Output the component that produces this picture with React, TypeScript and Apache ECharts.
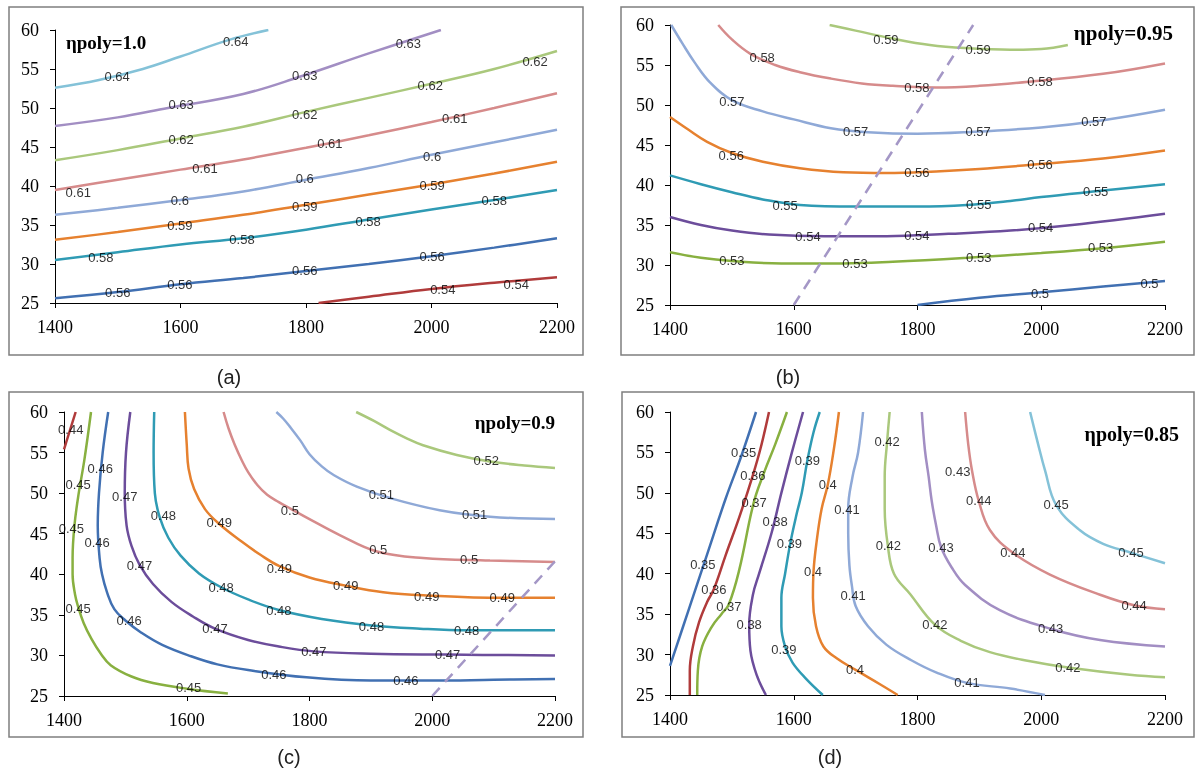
import React, { useEffect, useRef } from "react";
import * as echarts from "echarts";

// ---------- shared axis ranges ----------
const xRange = [1400, 2200];
const xStep = 200;
const yRange = [25, 60];
const yStep = 5;

// ---------- panel (a): ηpoly=1.0 ----------
const aTitle = "ηpoly=1.0";
const aLevels = ["0.64", "0.63", "0.62", "0.61", "0.6", "0.59", "0.58", "0.56", "0.54"];
const a064 = [[1400, 52.6], [1470, 53.6], [1540, 55.0], [1600, 56.6], [1680, 58.8], [1740, 60]];
const a063 = [[1400, 47.7], [1500, 48.8], [1580, 50.0], [1700, 51.8], [1790, 54.0], [1900, 57.0], [2015, 60]];
const a062 = [[1400, 43.3], [1500, 44.6], [1600, 46.1], [1700, 47.6], [1800, 49.5], [1900, 51.3], [2000, 53.1], [2100, 55.0], [2200, 57.3]];
const a061 = [[1400, 39.5], [1500, 40.8], [1600, 42.1], [1700, 43.4], [1800, 44.9], [1900, 46.5], [2000, 48.2], [2100, 50.0], [2200, 51.9]];
const a060 = [[1400, 36.3], [1500, 37.2], [1600, 38.2], [1700, 39.3], [1800, 40.8], [1900, 42.3], [2000, 44.0], [2100, 45.6], [2200, 47.2]];
const a059 = [[1400, 33.1], [1500, 34.1], [1600, 35.2], [1700, 36.3], [1800, 37.6], [1900, 38.9], [2000, 40.2], [2100, 41.6], [2200, 43.1]];
const a058 = [[1400, 30.5], [1500, 31.5], [1600, 32.5], [1700, 33.3], [1800, 34.4], [1900, 35.7], [2000, 37.0], [2100, 38.2], [2200, 39.5]];
const a056 = [[1400, 25.6], [1500, 26.4], [1600, 27.4], [1700, 28.2], [1800, 29.1], [1900, 30.0], [2000, 31.0], [2100, 32.1], [2200, 33.3]];
const a054 = [[1820, 25], [1900, 25.8], [2000, 26.8], [2100, 27.6], [2200, 28.3]];
const aLines = [a064, a063, a062, a061, a060, a059, a058, a056, a054];
const aLabels = [
  [1499, 54.1, "0.64"], [1688, 58.5, "0.64"],
  [1601, 50.4, "0.63"], [1798, 54.2, "0.63"], [1963, 58.3, "0.63"],
  [1601, 45.9, "0.62"], [1798, 49.2, "0.62"], [1998, 52.9, "0.62"], [2165, 56.0, "0.62"],
  [1437, 39.2, "0.61"], [1639, 42.3, "0.61"], [1838, 45.4, "0.61"], [2037, 48.7, "0.61"],
  [1599, 38.2, "0.6"], [1798, 40.9, "0.6"], [2001, 43.8, "0.6"],
  [1599, 35.0, "0.59"], [1798, 37.4, "0.59"], [2001, 40.1, "0.59"],
  [1473, 30.8, "0.58"], [1698, 33.2, "0.58"], [1899, 35.5, "0.58"], [2100, 38.2, "0.58"],
  [1500, 26.4, "0.56"], [1599, 27.4, "0.56"], [1798, 29.2, "0.56"], [2001, 31.0, "0.56"],
  [2018, 26.7, "0.54"], [2135, 27.4, "0.54"],
];

// ---------- panel (b): ηpoly=0.95 ----------
const bTitle = "ηpoly=0.95";
const bLevels = ["0.59", "0.58", "0.57", "0.56", "0.55", "0.54", "0.53", "0.5"];
const b059 = [[1658, 60], [1700, 59.3], [1760, 58.3], [1820, 57.5], [1880, 57.1], [1950, 56.9], [2000, 57.0], [2043, 57.5]];
const b058 = [[1478, 60], [1500, 58.2], [1530, 56.4], [1570, 55.0], [1610, 54.1], [1660, 53.3], [1710, 52.7], [1760, 52.4], [1830, 52.2], [1900, 52.4], [1980, 52.9], [2100, 53.9], [2200, 55.2]];
const b057 = [[1402, 60], [1420, 57.7], [1440, 55.3], [1465, 52.8], [1500, 50.6], [1550, 49.2], [1600, 48.2], [1660, 47.1], [1720, 46.6], [1800, 46.4], [1880, 46.6], [2000, 47.2], [2100, 48.1], [2200, 49.4]];
const b056 = [[1400, 48.5], [1430, 46.9], [1460, 45.4], [1500, 44.0], [1550, 42.9], [1610, 42.1], [1680, 41.6], [1750, 41.5], [1830, 41.7], [1900, 42.0], [1980, 42.5], [2100, 43.3], [2200, 44.3]];
const b055 = [[1400, 41.2], [1450, 40.1], [1500, 39.1], [1550, 38.2], [1610, 37.5], [1700, 37.3], [1800, 37.3], [1880, 37.5], [1950, 38.0], [2000, 38.5], [2100, 39.3], [2200, 40.1]];
const b054 = [[1400, 36.0], [1450, 35.0], [1500, 34.3], [1560, 33.8], [1650, 33.6], [1750, 33.6], [1850, 33.9], [1950, 34.3], [2050, 35.0], [2200, 36.4]];
const b053 = [[1400, 31.6], [1450, 30.9], [1500, 30.5], [1580, 30.2], [1680, 30.2], [1760, 30.4], [1880, 30.9], [2000, 31.5], [2100, 32.1], [2200, 32.9]];
const b050 = [[1800, 25], [1900, 25.9], [2000, 26.6], [2100, 27.3], [2200, 28.0]];
const bLines = [b059, b058, b057, b056, b055, b054, b053, b050];
const bDash = [[1600, 25], [1890, 60]];
const bLabels = [
  [1749, 58.25, "0.59"], [1898, 56.9, "0.59"],
  [1549, 56.0, "0.58"], [1799, 52.25, "0.58"], [1998, 52.9, "0.58"],
  [1500, 50.5, "0.57"], [1700, 46.75, "0.57"], [1898, 46.75, "0.57"], [2085, 48.0, "0.57"],
  [1499, 43.75, "0.56"], [1799, 41.6, "0.56"], [1998, 42.6, "0.56"],
  [1586, 37.5, "0.55"], [1899, 37.6, "0.55"], [2088, 39.25, "0.55"],
  [1623, 33.6, "0.54"], [1799, 33.75, "0.54"], [1999, 34.75, "0.54"],
  [1500, 30.6, "0.53"], [1699, 30.25, "0.53"], [1899, 30.9, "0.53"], [2096, 32.25, "0.53"],
  [1998, 26.5, "0.5"], [2175, 27.75, "0.5"],
];

// ---------- panel (c): ηpoly=0.9 ----------
const cTitle = "ηpoly=0.9";
const cLevels = ["0.44", "0.45", "0.46", "0.47", "0.48", "0.49", "0.5", "0.51", "0.52"];
const c044 = [[1400, 55.4], [1419, 60]];
const c045 = [[1444, 60], [1433, 54], [1424, 50], [1417, 46], [1414, 42], [1414, 40], [1418, 37.5], [1423, 36], [1432, 34], [1445, 32], [1460, 30.2], [1476, 28.8], [1510, 27.4], [1545, 26.6], [1600, 25.9], [1667, 25.3]];
const c046 = [[1472, 60], [1463, 55], [1457, 50], [1455, 46], [1458, 42], [1462, 40], [1470, 37.8], [1482, 35.7], [1500, 34.3], [1526, 32.8], [1560, 31.3], [1607, 29.9], [1650, 28.9], [1700, 28.2], [1795, 27.3], [1900, 26.9], [2000, 26.9], [2100, 27.0], [2200, 27.1]];
const c047 = [[1508, 60], [1501, 55], [1499, 50], [1502, 46], [1510, 43.5], [1523, 41.2], [1545, 38.8], [1575, 36.6], [1610, 34.8], [1646, 33.3], [1700, 31.9], [1750, 31.1], [1807, 30.5], [1900, 30.2], [2025, 30.1], [2200, 30.0]];
const c048 = [[1547, 60], [1546, 55], [1548, 50], [1556, 47], [1570, 44.5], [1590, 42.3], [1620, 40.1], [1656, 38.4], [1700, 36.9], [1750, 35.6], [1820, 34.5], [1901, 33.7], [1980, 33.3], [2056, 33.1], [2200, 33.1]];
const c049 = [[1597, 60], [1600, 56], [1603, 53], [1612, 50.5], [1630, 48], [1653, 46.2], [1690, 44], [1720, 42.4], [1751, 41.0], [1800, 39.6], [1859, 38.6], [1920, 37.8], [1991, 37.4], [2114, 37.1], [2200, 37.1]];
const c050 = [[1660, 60], [1668, 58], [1678, 56], [1690, 54], [1700, 52.6], [1715, 51], [1731, 49.8], [1750, 48.9], [1769, 48.1], [1800, 46.8], [1850, 44.8], [1910, 42.8], [1985, 42.0], [2094, 41.7], [2200, 41.5]];
const c051 = [[1746, 60], [1757, 59.2], [1768, 58.2], [1785, 56.5], [1800, 54.8], [1820, 53.3], [1840, 52.2], [1877, 50.8], [1931, 49.4], [2012, 47.9], [2094, 47.1], [2200, 46.8]];
const c052 = [[1876, 60], [1905, 58.9], [1931, 57.8], [1960, 56.7], [1985, 55.9], [2040, 54.7], [2094, 53.9], [2150, 53.4], [2200, 53.1]];
const cLines = [c044, c045, c046, c047, c048, c049, c050, c051, c052];
const cDash = [[2000, 25], [2200, 41.6]];
const cLabels = [
  [1411, 57.8, "0.44"],
  [1423, 51.1, "0.45"], [1412, 45.6, "0.45"], [1423, 35.8, "0.45"], [1603, 26.1, "0.45"],
  [1459, 53.0, "0.46"], [1454, 43.9, "0.46"], [1506, 34.3, "0.46"], [1742, 27.7, "0.46"], [1957, 26.85, "0.46"],
  [1499, 49.6, "0.47"], [1523, 41.1, "0.47"], [1646, 33.3, "0.47"], [1807, 30.5, "0.47"], [2025, 30.1, "0.47"],
  [1562, 47.2, "0.48"], [1656, 38.4, "0.48"], [1750, 35.5, "0.48"], [1901, 33.6, "0.48"], [2056, 33.1, "0.48"],
  [1653, 46.4, "0.49"], [1751, 40.7, "0.49"], [1859, 38.6, "0.49"], [1991, 37.3, "0.49"], [2114, 37.1, "0.49"],
  [1768, 47.9, "0.5"], [1912, 43.0, "0.5"], [2060, 41.8, "0.5"],
  [1917, 49.8, "0.51"], [2069, 47.4, "0.51"],
  [2088, 54.0, "0.52"],
];

// ---------- panel (d): ηpoly=0.85 ----------
const dTitle = "ηpoly=0.85";
const dLevels = ["0.35", "0.36", "0.37", "0.38", "0.39", "0.4", "0.41", "0.42", "0.43", "0.44", "0.45"];
const d035 = [[1400, 28.6], [1430, 35.5], [1460, 42.4], [1490, 49.3], [1515, 54.5], [1539, 60]];
const d036 = [[1432, 25], [1432, 28], [1437, 31], [1447, 34], [1460, 36.5], [1471, 38.1], [1490, 42.3], [1512, 47], [1534, 52.2], [1547, 55.7], [1560, 60]];
const d037 = [[1444, 25], [1445, 28], [1452, 31], [1468, 33.5], [1483, 35], [1495, 36.2], [1512, 40.5], [1535, 48.7], [1552, 52.5], [1570, 56], [1589, 60]];
const d038 = [[1555, 25], [1540, 27.5], [1530, 30.5], [1528, 33.7], [1534, 37.4], [1544, 40], [1564, 45], [1580, 50], [1597, 55], [1615, 60]];
const d039 = [[1647, 25], [1620, 27], [1598, 29], [1586, 31], [1580, 33.5], [1580, 37], [1586, 40], [1595, 44], [1605, 47.5], [1613, 50], [1622, 54], [1632, 57.5], [1642, 60]];
const d040 = [[1768, 25], [1740, 26.3], [1700, 28.1], [1670, 29.5], [1648, 31], [1636, 33.5], [1631, 37], [1632, 40.3], [1637, 44], [1645, 48], [1655, 51], [1665, 55.5], [1673, 60]];
const d041 = [[2006, 25], [1950, 25.8], [1880, 26.5], [1830, 27.8], [1790, 29.3], [1750, 31.2], [1720, 33.5], [1700, 36], [1694, 38.5], [1690, 41], [1688, 45], [1688, 48], [1695, 52], [1704, 55], [1712, 60]];
const d042 = [[1755, 60], [1751, 56.4], [1747, 52], [1747, 48], [1752, 43.5], [1762, 40], [1788, 37.5], [1828, 33.7], [1870, 31.7], [1917, 30.3], [1980, 29.2], [2043, 28.4], [2143, 27.5], [2200, 27.2]];
const d043 = [[1807, 60], [1812, 55.3], [1818, 52], [1823, 49], [1830, 46], [1838, 43.3], [1855, 40.8], [1877, 38.6], [1933, 35.5], [2015, 33.2], [2095, 31.8], [2200, 31.0]];
const d044 = [[1877, 60], [1882, 56], [1888, 52.8], [1899, 49], [1917, 45.4], [1954, 42.6], [2014, 39.9], [2095, 37.4], [2150, 36.1], [2200, 35.6]];
const d045 = [[1982, 60], [1995, 56], [2006, 52.8], [2024, 48.5], [2062, 45.4], [2100, 43.7], [2145, 42.6], [2200, 41.3]];
const dLines = [d035, d036, d037, d038, d039, d040, d041, d042, d043, d044, d045];
const dLabels = [
  [1519, 55.05, "0.35"], [1453, 41.2, "0.35"],
  [1534, 52.2, "0.36"], [1471, 38.1, "0.36"],
  [1536, 48.75, "0.37"], [1495, 35.9, "0.37"],
  [1570, 46.4, "0.38"], [1528, 33.7, "0.38"],
  [1622, 54.0, "0.39"], [1593, 43.7, "0.39"], [1584, 30.6, "0.39"],
  [1655, 51.0, "0.4"], [1631, 40.3, "0.4"], [1699, 28.1, "0.4"],
  [1686, 47.9, "0.41"], [1696, 37.3, "0.41"], [1880, 26.5, "0.41"],
  [1751, 56.4, "0.42"], [1753, 43.5, "0.42"], [1828, 33.7, "0.42"], [2043, 28.4, "0.42"],
  [1865, 52.7, "0.43"], [1838, 43.3, "0.43"], [2015, 33.2, "0.43"],
  [1899, 49.0, "0.44"], [1954, 42.6, "0.44"], [2150, 36.1, "0.44"],
  [2024, 48.5, "0.45"], [2145, 42.6, "0.45"],
];

// ---------- styles ----------
const DBLUE = "#4170b2";
const DRED = "#b03b3b";
const OLIVE = "#88b040";
const PURPLE = "#6c4d9b";
const TEAL = "#2f9bb4";
const ORANGE = "#e6812f";
const LBLUE = "#8fa9d7";
const PINK = "#d68b8b";
const LGREEN = "#aac87c";
const LPURPLE = "#a28ec3";
const LTEAL = "#84c2d8";
const DASH = "#a497c6";

const aColors = [LTEAL, LPURPLE, LGREEN, PINK, LBLUE, ORANGE, TEAL, DBLUE, DRED];
const bColors = [LGREEN, PINK, LBLUE, ORANGE, TEAL, PURPLE, OLIVE, DBLUE];
const cColors = [DRED, OLIVE, DBLUE, PURPLE, TEAL, ORANGE, PINK, LBLUE, LGREEN];
const dColors = [DBLUE, DRED, OLIVE, PURPLE, TEAL, ORANGE, LBLUE, LGREEN, LPURPLE, PINK, LTEAL];

const panels = [
  { grid: { left: 55, top: 30, width: 502, height: 273 }, lines: aLines, levels: aLevels, colors: aColors, labels: aLabels, dash: null as any },
  { grid: { left: 670, top: 25, width: 495, height: 280 }, lines: bLines, levels: bLevels, colors: bColors, labels: bLabels, dash: bDash },
  { grid: { left: 64, top: 412, width: 491, height: 284 }, lines: cLines, levels: cLevels, colors: cColors, labels: cLabels, dash: cDash },
  { grid: { left: 670, top: 412, width: 495, height: 283 }, lines: dLines, levels: dLevels, colors: dColors, labels: dLabels, dash: null as any },
];

const SERIF = "Liberation Serif";
const SANS = "Liberation Sans";

export default function App() {
  const ref = useRef<HTMLDivElement>(null);
  useEffect(() => {
    if (!ref.current) return;
    const chart = echarts.init(ref.current, undefined, { renderer: "svg" });

    const grid = panels.map((p) => ({ ...p.grid }));
    const xAxis = panels.map((p, i) => ({
      type: "value",
      gridIndex: i,
      min: xRange[0],
      max: xRange[1],
      interval: xStep,
      axisLine: { show: true, onZero: false, lineStyle: { color: "#000", width: 1 } },
      axisTick: { show: true, length: 5, lineStyle: { color: "#000", width: 1 } },
      splitLine: { show: false },
      axisLabel: { fontFamily: SERIF, fontSize: 18, color: "#000", margin: 15, formatter: (v: number) => String(v) },
    }));
    const yAxis = panels.map((p, i) => ({
      type: "value",
      gridIndex: i,
      min: yRange[0],
      max: yRange[1],
      interval: yStep,
      axisLine: { show: true, onZero: false, lineStyle: { color: "#000", width: 1 } },
      axisTick: { show: true, length: 5, lineStyle: { color: "#000", width: 1 } },
      splitLine: { show: false },
      axisLabel: { fontFamily: SERIF, fontSize: 18, color: "#000", margin: 16 },
    }));

    const series: any[] = [];
    panels.forEach((p, i) => {
      p.lines.forEach((pts, j) => {
        series.push({
          type: "line",
          name: p.levels[j],
          xAxisIndex: i,
          yAxisIndex: i,
          data: pts,
          smooth: 0.4,
          symbol: "none",
          showSymbol: false,
          silent: true,
          z: 2,
          lineStyle: { color: p.colors[j], width: 2.5 },
          itemStyle: { color: p.colors[j] },
        });
      });
      if (p.dash) {
        series.push({
          type: "line",
          xAxisIndex: i,
          yAxisIndex: i,
          data: p.dash,
          symbol: "none",
          showSymbol: false,
          silent: true,
          z: 2,
          lineStyle: { color: DASH, width: 2.5, type: [11, 8] },
        });
      }
      series.push({
        type: "scatter",
        xAxisIndex: i,
        yAxisIndex: i,
        data: p.labels,
        symbolSize: 1,
        silent: true,
        z: 5,
        itemStyle: { color: "rgba(0,0,0,0)" },
        label: {
          show: true,
          position: "inside",
          formatter: (q: any) => String(q.value[2]),
          fontFamily: SANS,
          fontSize: 13,
          color: "#000",
        },
      });
    });

    const boxStyle = { fill: "transparent", stroke: "#7f7f7f", lineWidth: 1.5 };
    const titleStyle = (text: string, align: string, size: number) => ({
      text,
      fill: "#000",
      fontFamily: SERIF,
      fontSize: size,
      fontWeight: "bold",
      textAlign: align,
      textVerticalAlign: "middle",
    });
    const capStyle = (text: string) => ({
      text,
      fill: "#222",
      fontFamily: SANS,
      fontSize: 20,
      textAlign: "center",
      textVerticalAlign: "middle",
    });

    const graphic = [
      { type: "rect", shape: { x: 9, y: 7, width: 574, height: 348 }, style: boxStyle, silent: true },
      { type: "rect", shape: { x: 621, y: 7, width: 573, height: 348 }, style: boxStyle, silent: true },
      { type: "rect", shape: { x: 9, y: 392, width: 574, height: 345 }, style: boxStyle, silent: true },
      { type: "rect", shape: { x: 622, y: 392, width: 572, height: 345 }, style: boxStyle, silent: true },
      { type: "text", x: 66, y: 42, style: titleStyle(aTitle, "left", 19), z: 10 },
      { type: "text", x: 1173, y: 33, style: titleStyle(bTitle, "right", 21), z: 10 },
      { type: "text", x: 555, y: 422, style: titleStyle(cTitle, "right", 19), z: 10 },
      { type: "text", x: 1179, y: 434, style: titleStyle(dTitle, "right", 20), z: 10 },
      { type: "text", x: 229, y: 377, style: capStyle("(a)") },
      { type: "text", x: 788, y: 377, style: capStyle("(b)") },
      { type: "text", x: 289, y: 757, style: capStyle("(c)") },
      { type: "text", x: 830, y: 757, style: capStyle("(d)") },
    ];

    chart.setOption({
      animation: false,
      textStyle: { fontFamily: SERIF },
      grid,
      xAxis,
      yAxis,
      series,
      graphic,
    });
    return () => chart.dispose();
  }, []);

  return <div ref={ref} style={{ position: "fixed", left: 0, top: 0, width: 1196, height: 770 }} />;
}
